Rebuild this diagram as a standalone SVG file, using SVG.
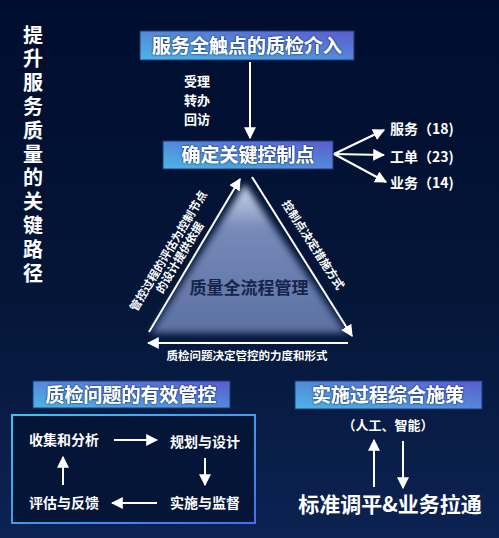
<svg xmlns="http://www.w3.org/2000/svg" width="499" height="538" viewBox="0 0 499 538">
<defs>
<linearGradient id="bg" x1="0" y1="0" x2="0" y2="1">
<stop offset="0" stop-color="#000d2e"/>
<stop offset="0.55" stop-color="#041638"/>
<stop offset="1" stop-color="#0c2252"/>
</linearGradient>
<linearGradient id="boxg" x1="0" y1="1" x2="1" y2="0">
<stop offset="0" stop-color="#4cb6e4"/>
<stop offset="1" stop-color="#5a5ccf"/>
</linearGradient>
<linearGradient id="frame" x1="0" y1="0" x2="1" y2="1">
<stop offset="0" stop-color="#3cc6ea"/>
<stop offset="1" stop-color="#4a6cf2"/>
</linearGradient>
<linearGradient id="tri" x1="0" y1="0" x2="0" y2="1">
<stop offset="0" stop-color="#d2dcf2"/>
<stop offset="0.3" stop-color="#7689b8"/>
<stop offset="1" stop-color="#5c70a2"/>
</linearGradient>
<filter id="blur" x="-20%" y="-20%" width="140%" height="140%">
<feGaussianBlur stdDeviation="3.5"/>
</filter>
<filter id="ts" x="-10%" y="-30%" width="120%" height="160%">
<feDropShadow dx="0" dy="0" stdDeviation="1.2" flood-color="#0a1840" flood-opacity="0.9"/>
</filter>
<marker id="ah" viewBox="0 0 10 10" refX="9" refY="5" markerWidth="6" markerHeight="6" markerUnits="strokeWidth" orient="auto">
<path d="M0,0 L10,5 L0,10 Z" fill="#ffffff"/>
</marker>
</defs>
<style>
text{font-family:"Noto Sans CJK SC","Noto Sans",sans-serif;font-weight:bold;fill:#ffffff}
.title{font-size:19px;text-anchor:middle}
.lbl{font-size:14px}
.small{font-size:11.5px;text-anchor:middle}
.box{fill:url(#boxg);stroke:#1c3a78;stroke-width:1}
.arr{stroke:#ffffff;stroke-width:2;fill:none;marker-end:url(#ah)}
</style>
<rect x="0" y="0" width="499" height="538" fill="url(#bg)"/>

<g id="side-title">
<text x="33" y="25" font-size="20" style="writing-mode:vertical-rl;letter-spacing:3.8px">提升服务质量的关键路径</text>
</g>

<g id="triangle">
<polygon points="245,184 151,333 346,333" fill="url(#tri)" filter="url(#blur)"/>
<text x="249" y="294" font-size="17" text-anchor="middle" style="fill:#17244a">质量全流程管理</text>
</g>

<g id="node-touchpoint">
<rect class="box" x="140" y="31" width="214" height="29"/>
<text class="title" x="247" y="53" filter="url(#ts)">服务全触点的质检介入</text>
</g>

<g id="node-keypoint">
<rect class="box" x="163" y="141" width="170" height="28"/>
<text class="title" x="248" y="162" filter="url(#ts)">确定关键控制点</text>
</g>

<g id="node-service"><text class="lbl" x="390" y="134">服务（18)</text></g>
<g id="node-order"><text class="lbl" x="390" y="162">工单（23)</text></g>
<g id="node-business"><text class="lbl" x="390" y="188">业务（14)</text></g>

<g id="label-steps">
<text x="184" y="86" font-size="13">受理</text>
<text x="184" y="105" font-size="13">转办</text>
<text x="184" y="124" font-size="13">回访</text>
</g>

<g id="node-effective">
<rect class="box" x="33" y="381" width="197" height="27"/>
<text class="title" x="131" y="402" filter="url(#ts)">质检问题的有效管控</text>
</g>

<g id="node-cycle">
<rect x="12" y="415" width="243" height="108" fill="#041538" stroke="url(#frame)" stroke-width="2"/>
<text class="lbl" x="64" y="445" text-anchor="middle">收集和分析</text>
<text class="lbl" x="205" y="447" text-anchor="middle">规划与设计</text>
<text class="lbl" x="205" y="508" text-anchor="middle">实施与监督</text>
<text class="lbl" x="64" y="508" text-anchor="middle">评估与反馈</text>
</g>

<g id="node-implement">
<rect class="box" x="295" y="381" width="187" height="28"/>
<text class="title" x="388" y="402" filter="url(#ts)">实施过程综合施策</text>
<text x="388" y="430" font-size="13" text-anchor="middle">（人工、智能）</text>
</g>

<g id="node-standard">
<text x="390" y="512" font-size="21" text-anchor="middle">标准调平&amp;业务拉通</text>
</g>

<g id="connectors">
<line class="arr" x1="250" y1="62" x2="250" y2="138"/>
<line class="arr" x1="334" y1="154" x2="384" y2="130"/>
<line class="arr" x1="334" y1="154" x2="384" y2="155"/>
<line class="arr" x1="334" y1="154" x2="386" y2="182"/>
<line class="arr" x1="149" y1="332" x2="240" y2="179"/>
<line class="arr" x1="252" y1="177" x2="352" y2="336"/>
<line class="arr" x1="348" y1="343" x2="148" y2="343"/>
<line class="arr" x1="114" y1="440" x2="157" y2="440"/>
<line class="arr" x1="205" y1="458" x2="205" y2="485"/>
<line class="arr" x1="157" y1="503" x2="112" y2="503"/>
<line class="arr" x1="63" y1="485" x2="63" y2="457"/>
<line class="arr" x1="374" y1="487" x2="374" y2="440"/>
<line class="arr" x1="403" y1="441" x2="403" y2="488"/>
</g>

<g id="connector-labels">
<g transform="translate(172,253) rotate(-59)">
<text class="small" x="0" y="0">管控过程的评估为控制节点</text>
<text class="small" x="0" y="13">的设计提供依据</text>
</g>
<g transform="translate(313,245) rotate(57)">
<text class="small" x="0" y="4">控制点决定措施方式</text>
</g>
<text class="small" x="247" y="360">质检问题决定管控的力度和形式</text>
</g>
</svg>
